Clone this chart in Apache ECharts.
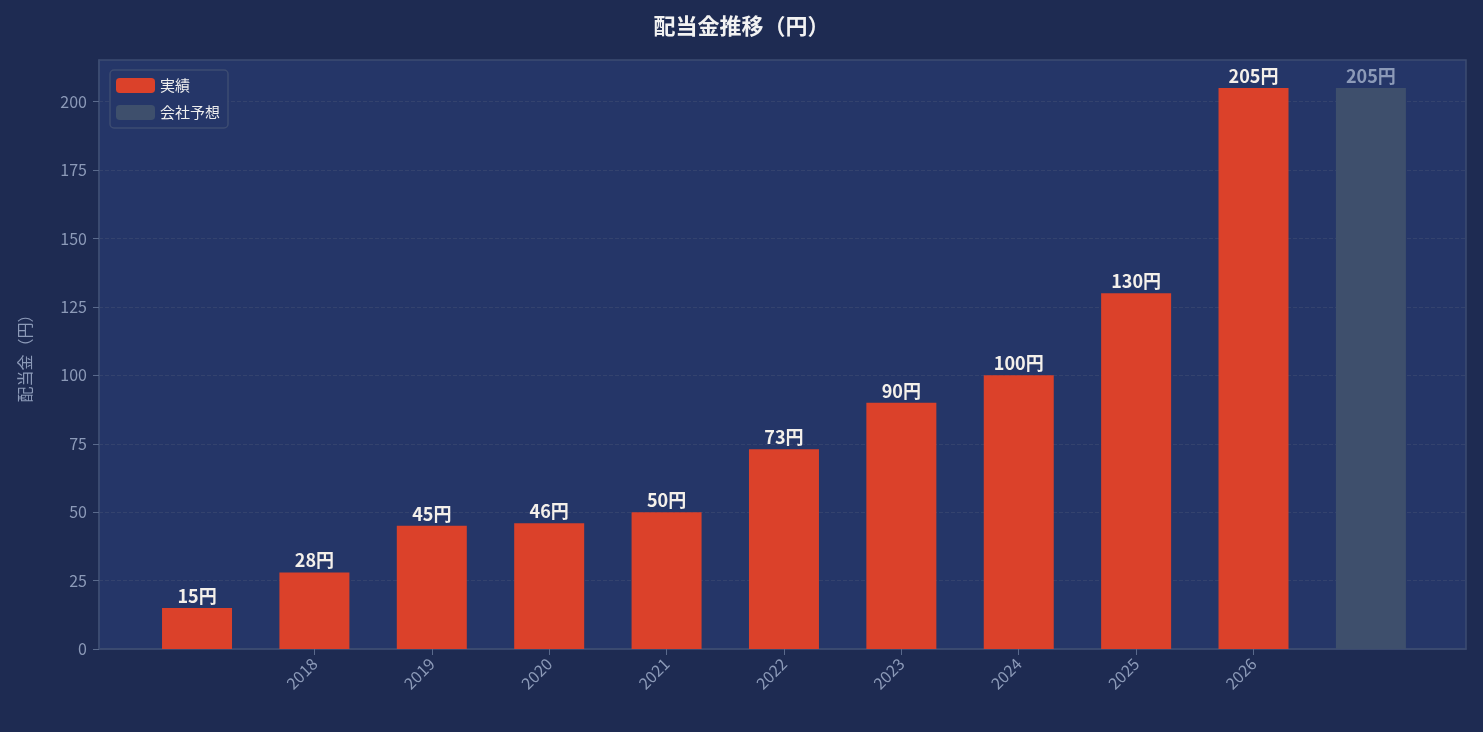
<!DOCTYPE html><html><head><meta charset="utf-8">
<script src="https://cdn.jsdelivr.net/npm/echarts@6/dist/echarts.min.js"></script>
<style>html,body{margin:0;background:#1e2b52;}#c{width:1483px;height:732px;}</style></head><body><div id="c"></div>
<script>
const years=[2017,2018,2019,2020,2021,2022,2023,2024,2025,2026,2027];
const actual=[15,28,45,46,50,73,90,100,130,205,null];
const forecast=[null,null,null,null,null,null,null,null,null,null,205];
const yTicks=[0,25,50,75,100,125,150,175,200];
const font='"Noto Sans CJK JP", "Noto Sans", sans-serif';
const chart=echarts.init(document.getElementById('c'));
const lbl=(c)=>({show:true,position:'top',distance:3,color:c,fontSize:18,fontWeight:'bold',fontFamily:font,formatter:p=>p.value[1]+'円'});
chart.setOption({
 backgroundColor:'#1e2b52',
 title:{text:'配当金推移（円）',left:'center',top:10,textStyle:{color:'#f2f2f2',fontSize:22,fontWeight:'bold',fontFamily:font}},
 grid:{left:99,right:17,top:60,bottom:83,backgroundColor:'#253668',show:true,borderColor:'#3d4c72',borderWidth:1.5},
 legend:{left:110,top:70,orient:'vertical',itemWidth:39,itemHeight:15,itemGap:12,padding:[8,8,8,6],borderColor:'#3d4c72',borderWidth:1.5,borderRadius:4,backgroundColor:'#253668',
   textStyle:{color:'#eeeeee',fontSize:15,fontFamily:font},data:['実績','会社予想']},
 xAxis:{type:'value',min:2017-0.835,max:2027+0.81,interval:1,
   axisLabel:{rotate:45,color:'#8c9ab8',fontSize:16,fontFamily:font,margin:12,
     formatter:v=>years.includes(Math.round(v))&&Math.abs(v-Math.round(v))<1e-6?String(Math.round(v)):'',showMinLabel:false,showMaxLabel:false,customValues:years},
   axisTick:{show:true,length:6,lineStyle:{color:'#5a6a8c'},customValues:years},
   axisLine:{lineStyle:{color:'#3d4c72',width:1.5}},splitLine:{show:false}},
 yAxis:{type:'value',name:'配当金（円）',nameLocation:'middle',nameGap:66,nameTextStyle:{color:'#8c9ab8',fontSize:16,fontFamily:font},
   min:0,max:215.25,interval:25,
   axisLabel:{color:'#8c9ab8',fontSize:16,fontFamily:font,margin:12,customValues:yTicks},
   axisTick:{show:true,length:6,lineStyle:{color:'#5a6a8c'},customValues:yTicks},
   axisLine:{show:true,lineStyle:{color:'#3d4c72',width:1.5}},
   splitLine:{show:true,lineStyle:{color:'#34436e',type:'dashed'}}},
 series:[
  {name:'実績',type:'bar',barWidth:70,barGap:'-100%',itemStyle:{color:'#db412a'},label:lbl('#f4f0ea'),
   data:years.map((y,i)=>actual[i]==null?null:[y,actual[i]])},
  {name:'会社予想',type:'bar',barWidth:70,barGap:'-100%',itemStyle:{color:'#3e4f6c'},label:lbl('#8c9ab8'),
   data:years.map((y,i)=>forecast[i]==null?null:[y,forecast[i]])}
 ]
});
</script></body></html>
